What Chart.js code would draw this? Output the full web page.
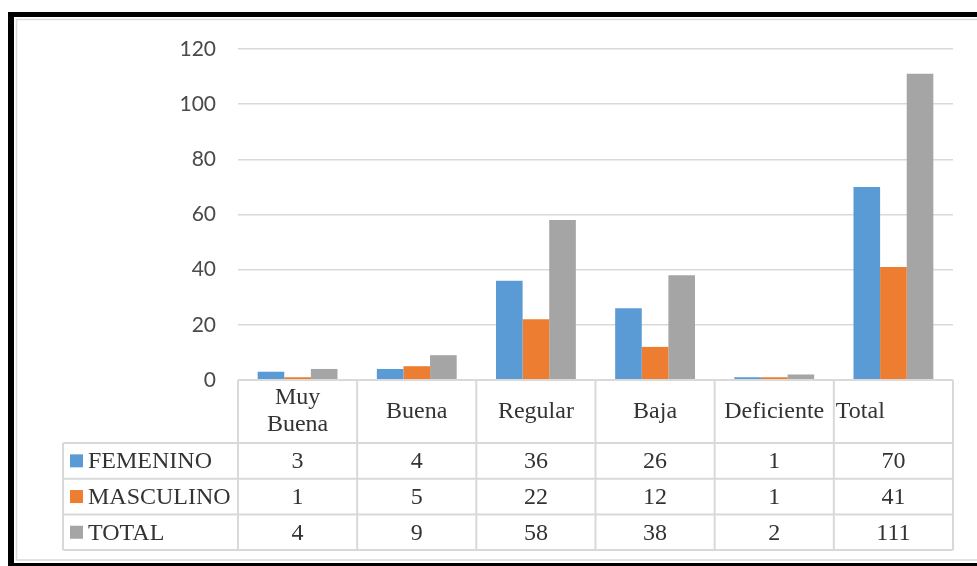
<!DOCTYPE html>
<html lang="es">
<head>
    <meta charset="UTF-8">
    <title>Calificación por sexo</title>
    <script src="https://cdn.jsdelivr.net/npm/chart.js"></script>
    <style>
        body {
            margin: 0;
            padding: 0;
            background: #fff;
        }
        canvas {
            display: block;
        }
    </style>
</head>
<body>
    <canvas id="chart" width="977" height="566"></canvas>

    <script>
        // Data
        const categories = [['Muy', 'Buena'], ['Buena'], ['Regular'], ['Baja'], ['Deficiente'], ['Total']];
        const femenino = [3, 4, 36, 26, 1, 70];
        const masculino = [1, 5, 22, 12, 1, 41];
        const total = [4, 9, 58, 38, 2, 111];
        const seriesNames = ['FEMENINO', 'MASCULINO', 'TOTAL'];
        const seriesColors = ['#5B9BD5', '#ED7D31', '#A5A5A5'];
        const yTicks = [0, 20, 40, 60, 80, 100, 120];

        const gridColor = '#d9d9d9';
        const tableFont = '24px "Liberation Serif", "Times New Roman", serif';
        const tableText = '#333333';

        // Frame around the chart + data table under the plot
        const tablePlugin = {
            id: 'dataTable',
            beforeDraw(chart) {
                const ctx = chart.ctx;
                ctx.save();
                ctx.fillStyle = '#000';
                ctx.fillRect(8, 12, chart.width - 8, 5);   // top
                ctx.fillRect(8, 12, 6, chart.height - 12); // left
                ctx.fillRect(8, 563, chart.width - 8, 3);  // bottom
                ctx.strokeStyle = gridColor;
                ctx.lineWidth = 1.5;
                ctx.beginPath();
                ctx.moveTo(chart.width, 19.5);
                ctx.lineTo(16.5, 19.5);
                ctx.lineTo(16.5, 560);
                ctx.lineTo(chart.width, 560);
                ctx.stroke();
                ctx.restore();
            },
            afterDraw(chart) {
                const ctx = chart.ctx;
                const xs = chart.scales.x;
                const area = chart.chartArea;
                const n = categories.length;
                const colW = (xs.right - xs.left) / n;
                const top = area.bottom;
                const headH = 63;
                const rowH = 35.7;
                const legLeft = 63;
                const rows = [femenino, masculino, total];
                const bottom = top + headH + rowH * rows.length;

                ctx.save();
                ctx.strokeStyle = gridColor;
                ctx.lineWidth = 2;
                ctx.beginPath();
                // axis / header top line
                ctx.moveTo(xs.left, top);
                ctx.lineTo(xs.right, top);
                // row lines
                for (let r = 0; r <= rows.length; r++) {
                    const y = top + headH + r * rowH;
                    ctx.moveTo(legLeft, y);
                    ctx.lineTo(xs.right, y);
                }
                // legend column left edge
                ctx.moveTo(legLeft, top + headH);
                ctx.lineTo(legLeft, bottom);
                // column edges
                for (let i = 0; i <= n; i++) {
                    const x = xs.left + i * colW;
                    ctx.moveTo(x, top);
                    ctx.lineTo(x, bottom);
                }
                ctx.stroke();

                ctx.font = tableFont;
                ctx.fillStyle = tableText;
                ctx.textBaseline = 'middle';

                // header labels
                categories.forEach((lines, i) => {
                    const cx = xs.getPixelForValue(i);
                    const cy = top + headH / 2;
                    const lh = 27;
                    lines.forEach((txt, k) => {
                        const y = cy + (k - (lines.length - 1) / 2) * lh;
                        if (i === n - 1) {
                            // the original shows the last label pushed to the left of its cell
                            ctx.textAlign = 'left';
                            ctx.fillText(txt, xs.left + i * colW + 2, y);
                        } else {
                            ctx.textAlign = 'center';
                            ctx.fillText(txt, cx, y);
                        }
                    });
                });

                // series rows
                rows.forEach((vals, r) => {
                    const cy = top + headH + r * rowH + rowH / 2;
                    ctx.fillStyle = seriesColors[r];
                    ctx.fillRect(70, cy - 6.5, 13, 13);
                    ctx.fillStyle = tableText;
                    ctx.textAlign = 'left';
                    ctx.fillText(seriesNames[r], 88, cy + 1);
                    ctx.textAlign = 'center';
                    vals.forEach((v, i) => {
                        ctx.fillText(String(v), xs.getPixelForValue(i), cy + 1);
                    });
                });
                ctx.restore();
            }
        };

        const ctx = document.getElementById('chart').getContext('2d');
        new Chart(ctx, {
            type: 'bar',
            data: {
                labels: categories.map(c => c.join(' ')),
                datasets: [femenino, masculino, total].map((d, i) => ({
                    label: seriesNames[i],
                    data: d,
                    backgroundColor: seriesColors[i],
                    borderWidth: 0,
                    categoryPercentage: 0.67,
                    barPercentage: 1.0
                }))
            },
            options: {
                responsive: false,
                animation: false,
                devicePixelRatio: 1,
                layout: {
                    padding: { top: 49, right: 24, bottom: 186, left: 0 }
                },
                plugins: {
                    legend: { display: false },
                    tooltip: { enabled: false }
                },
                scales: {
                    x: {
                        display: false
                    },
                    y: {
                        min: 0,
                        max: 120,
                        afterBuildTicks: scale => {
                            scale.ticks = yTicks.map(v => ({ value: v }));
                        },
                        afterFit: scale => {
                            scale.width = 238;
                        },
                        border: { display: false },
                        grid: {
                            color: gridColor,
                            lineWidth: 1.5,
                            drawTicks: false
                        },
                        ticks: {
                            padding: 22,
                            color: '#4a4a4a',
                            font: { family: 'Lato, "Open Sans", sans-serif', size: 21 }
                        }
                    }
                }
            },
            plugins: [tablePlugin]
        });
    </script>
</body>
</html>
